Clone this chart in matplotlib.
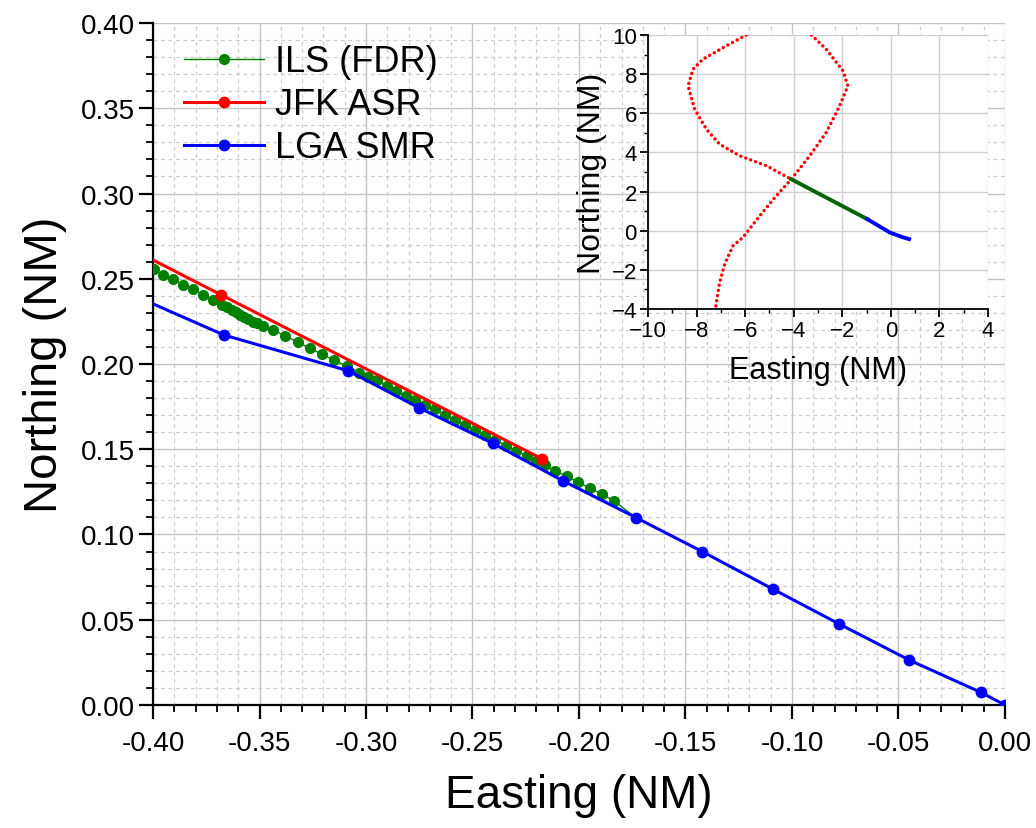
import matplotlib
matplotlib.use("Agg")
import matplotlib.pyplot as plt
from matplotlib.ticker import MultipleLocator

plt.rcParams['font.family'] = ['Liberation Sans', 'DejaVu Sans']

# основной график: ILS (FDR) точки
ils_x = [-0.3995, -0.3955, -0.3908, -0.3861, -0.3814, -0.3767, -0.3720, -0.3678,
         -0.3651, -0.3631, -0.3610, -0.3592, -0.3573, -0.3553, -0.3532, -0.3510,
         -0.3482, -0.3435, -0.3380, -0.3321, -0.3263, -0.3205, -0.3149, -0.3091,
         -0.3031, -0.2989, -0.2947, -0.2900, -0.2859, -0.2812, -0.2770, -0.2723,
         -0.2676, -0.2629, -0.2582, -0.2535, -0.2488, -0.2441, -0.2394, -0.2343,
         -0.2296, -0.2246, -0.2202, -0.2160, -0.2113, -0.2058, -0.2003, -0.1948,
         -0.1894, -0.1836, -0.1750]
ils_y = [0.2557, 0.2524, 0.2499, 0.2465, 0.2440, 0.2407, 0.2377, 0.2348,
         0.2333, 0.2318, 0.2303, 0.2289, 0.2277, 0.2264, 0.2248, 0.2239,
         0.2225, 0.2199, 0.2166, 0.2129, 0.2092, 0.2057, 0.2022, 0.1987,
         0.1950, 0.1922, 0.1904, 0.1869, 0.1843, 0.1814, 0.1791, 0.1761,
         0.1735, 0.1701, 0.1673, 0.1644, 0.1615, 0.1584, 0.1554, 0.1521,
         0.1492, 0.1462, 0.1433, 0.1408, 0.1374, 0.1341, 0.1306, 0.1271,
         0.1238, 0.1198, 0.1115]

# JFK ASR
jfk_x = [-0.519, -0.3682, -0.2172]
jfk_y = [0.337, 0.2407, 0.1443]

# LGA SMR
lga_x = [-0.425, -0.3667, -0.3083, -0.2750, -0.2405, -0.2077, -0.1732,
         -0.1420, -0.1090, -0.0778, -0.0450, -0.0113, 0.0]
lga_y = [0.249, 0.2170, 0.1960, 0.1742, 0.1535, 0.1316, 0.1099,
         0.0899, 0.0680, 0.0475, 0.0264, 0.0074, 0.0]

# вставка (крупный масштаб)
red1_x = [-3.27, -2.66, -1.97, -1.77, -2.11, -2.66, -3.34, -4.10, -4.72,
          -5.40, -6.09, -6.50, -6.84, -7.05, -7.23]
red1_y = [10.0, 9.27, 8.16, 7.40, 6.38, 5.02, 3.83, 2.63, 1.78,
          0.76, -0.34, -0.77, -1.70, -2.64, -4.0]
red2_x = [-5.95, -6.91, -7.74, -8.15, -8.35, -8.08, -7.60, -7.05, -6.23, -5.13, -4.10]
red2_y = [10.0, 9.35, 8.76, 8.25, 7.40, 6.21, 5.19, 4.42, 3.83, 3.32, 2.63]
green_in_x = [-4.10, -0.97]
green_in_y = [2.63, 0.59]
blue_in_x = [-0.97, -0.05, 0.50, 0.75]
blue_in_y = [0.59, -0.09, -0.34, -0.43]

fig = plt.figure(figsize=(10.36, 8.29), dpi=100)
ax = fig.add_axes([0.1477, 0.1484, 0.8223, 0.8226])

ax.plot(ils_x, ils_y, color='#008000', lw=1.0, marker='o', ms=7,
        markevery=slice(0, len(ils_x) - 1), label='ILS (FDR)', zorder=3)
ax.plot(jfk_x, jfk_y, color='#ff0000', lw=2.2, marker='o', ms=7.5,
        label='JFK ASR', zorder=4)
ax.plot(lga_x, lga_y, color='#0000ff', lw=2.2, marker='o', ms=7.5,
        label='LGA SMR', zorder=5)

ax.set_xlim(-0.40, 0.0)
ax.set_ylim(0.0, 0.40)
ax.xaxis.set_major_locator(MultipleLocator(0.05))
ax.xaxis.set_minor_locator(MultipleLocator(0.01))
ax.yaxis.set_major_locator(MultipleLocator(0.05))
ax.yaxis.set_minor_locator(MultipleLocator(0.01))
ax.xaxis.set_major_formatter(lambda v, p: f"{v:.2f}")
ax.yaxis.set_major_formatter(lambda v, p: f"{v:.2f}")

ax.grid(which='major', color='#c4c4c4', lw=1.0, ls='-')
ax.grid(which='minor', color='#cccccc', lw=0.9, ls=(0, (3, 3)))
ax.set_axisbelow(True)

for s in ['top', 'right']:
    ax.spines[s].set_visible(False)
for s in ['left', 'bottom']:
    ax.spines[s].set_linewidth(1.6)
ax.tick_params(which='major', direction='out', length=10, width=1.6, labelsize=20)
ax.tick_params(axis='x', which='major', pad=8)
ax.tick_params(axis='y', which='major', pad=3)
ax.tick_params(which='minor', direction='out', length=5, width=1.3)

ax.set_xlabel('Easting (NM)', fontsize=33, labelpad=12)
ax.set_ylabel('Northing (NM)', fontsize=34, labelpad=10)

ax.legend(loc='upper left', bbox_to_anchor=(0.02, 0.99), frameon=False,
          fontsize=26, handlelength=2.2, handletextpad=0.3, labelspacing=0.22,
          borderaxespad=0)

# вставка
ins = fig.add_axes([0.6255, 0.6261, 0.3282, 0.3305])
ins.set_facecolor('white')
ins.plot(red1_x, red1_y, color='#ff0000', lw=2.5, ls=(0, (0.01, 1.5)),
         dash_capstyle='round')
ins.plot(red2_x, red2_y, color='#ff0000', lw=2.5, ls=(0, (0.01, 1.5)),
         dash_capstyle='round')
ins.plot(green_in_x, green_in_y, color='#006400', lw=2.8)
ins.plot(blue_in_x, blue_in_y, color='#0000ff', lw=2.8)
ins.set_xlim(-10, 4)
ins.set_ylim(-4, 10)
ins.xaxis.set_major_locator(MultipleLocator(2))
ins.xaxis.set_minor_locator(MultipleLocator(1))
ins.yaxis.set_major_locator(MultipleLocator(2))
ins.yaxis.set_minor_locator(MultipleLocator(1))
ins.grid(which='major', color='#d0d0d0', lw=1.0)
ins.set_axisbelow(True)
for s in ['top', 'right']:
    ins.spines[s].set_visible(False)
for s in ['left', 'bottom']:
    ins.spines[s].set_linewidth(1.3)
ins.tick_params(which='major', direction='out', length=6, width=1.3, labelsize=16, pad=2)
ins.tick_params(which='minor', direction='out', length=3, width=1.0)
ins.set_xlabel('Easting (NM)', fontsize=22, labelpad=10)
ins.set_ylabel('Northing (NM)', fontsize=23, labelpad=3)

fig.savefig('out.png', dpi=100)
plt.close(fig)
